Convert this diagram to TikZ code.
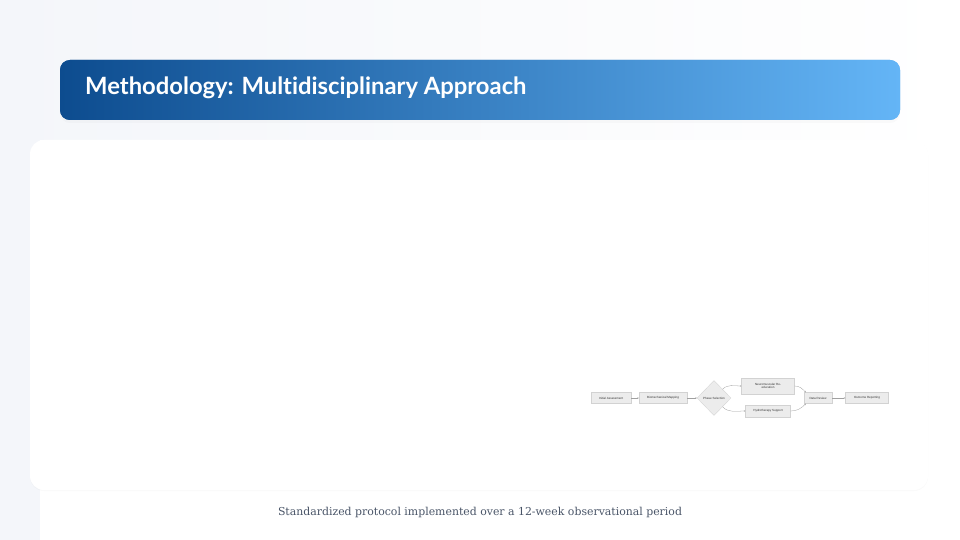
\documentclass[tikz,border=0pt]{standalone}
\usepackage{fontspec}
\setmainfont{Liberation Sans}
\newfontfamily\titlefont[Ligatures={NoCommon}]{Lato}
\newfontfamily\capfont{DejaVu Serif}
\usetikzlibrary{arrows.meta,positioning,shapes.geometric,shadows}
\definecolor{hdrleft}{HTML}{0D4C8F}
\definecolor{hdrright}{HTML}{64B5F6}
\definecolor{pagebg}{HTML}{F4F6FA}
\definecolor{stepfill}{HTML}{ECECEC}
\definecolor{stepdraw}{HTML}{D2D2D2}
\definecolor{flowline}{HTML}{A0A0A0}
\definecolor{captext}{HTML}{4A5568}

\begin{document}
\begin{tikzpicture}
  [x=1pt,y=-1pt,node distance=52pt,on grid,>={Stealth[length=1.6pt,width=1.4pt]},
  every node/.style={font=\fontsize{3}{3.6}\selectfont,text=black!80},
  process/.style={rectangle,draw=stepdraw,fill=stepfill,line width=0.3pt,
    minimum height=11pt,inner sep=1pt},
  decision/.style={diamond,draw=stepdraw,fill=stepfill,line width=0.3pt,
    minimum width=34pt,minimum height=35pt,inner sep=0pt},
  flow/.style={->,draw=flowline,line width=0.3pt}]
  \useasboundingbox (0,0) rectangle (960,540);
  % page, header and card
  \shade[left color=pagebg,right color=white] (0,0) rectangle (960,540);
  \fill[white] (40,140) rectangle (960,540);
  \fill[white,rounded corners=14pt,
    drop shadow={opacity=0.04,shadow xshift=0pt,shadow yshift=-1pt}]
    (30,140) rectangle (928,490);
  \shade[left color=hdrleft,right color=hdrright,rounded corners=10pt,
    drop shadow={opacity=0.04,shadow xshift=0pt,shadow yshift=-3pt}]
    (60,60) rectangle (900,120);
  \shade[left color=hdrleft,right color=hdrright,rounded corners=10pt]
    (60,60) rectangle (900,120);
  \node[anchor=west,inner sep=0pt,text=white,
    font=\titlefont\bfseries\fontsize{23.8}{28}\selectfont] (title) at (85,88)
    {Methodology: Multidisciplinary Approach};
  % flowchart
  \node[process,minimum width=40pt] (assess) at (611,398) {Initial Assessment};
  \node[process,minimum width=48pt] (mapping) [right=of assess] {Biomechanical Mapping};
  \node[decision] (phase) [right=51pt of mapping] {Phase Selection};
  \node[process,minimum width=53pt,minimum height=16pt,align=center] (neuro)
    [above right=12pt and 54pt of phase] {Neuromuscular Re-\\education};
  \node[process,minimum width=45pt,minimum height=12pt] (hydro)
    [below right=13pt and 54pt of phase] {Hydrotherapy Support};
  \node[process,minimum width=28pt] (review) [right=104pt of phase] {Data Review};
  \node[process,minimum width=43pt] (report) [right=49pt of review] {Outcome Reporting};
  \draw[flow] (assess) -- (mapping);
  \draw[flow] (mapping) -- (phase);
  \draw[flow] (phase.north east) to[out=45,in=180] (neuro.west);
  \draw[flow] (phase.south east) to[out=-45,in=180] (hydro.west);
  \draw[flow] (neuro.east) to[out=0,in=135] ([xshift=2pt]review.north west);
  \draw[flow] (hydro.east) to[out=0,in=-135] ([xshift=2pt]review.south west);
  \draw[flow] (review) -- (report);
  % caption
  \node[font=\capfont\fontsize{10.9}{13}\selectfont,text=captext] (caption) at (480,512)
    {Standardized protocol implemented over a 12-week observational period};
\end{tikzpicture}
\end{document}
